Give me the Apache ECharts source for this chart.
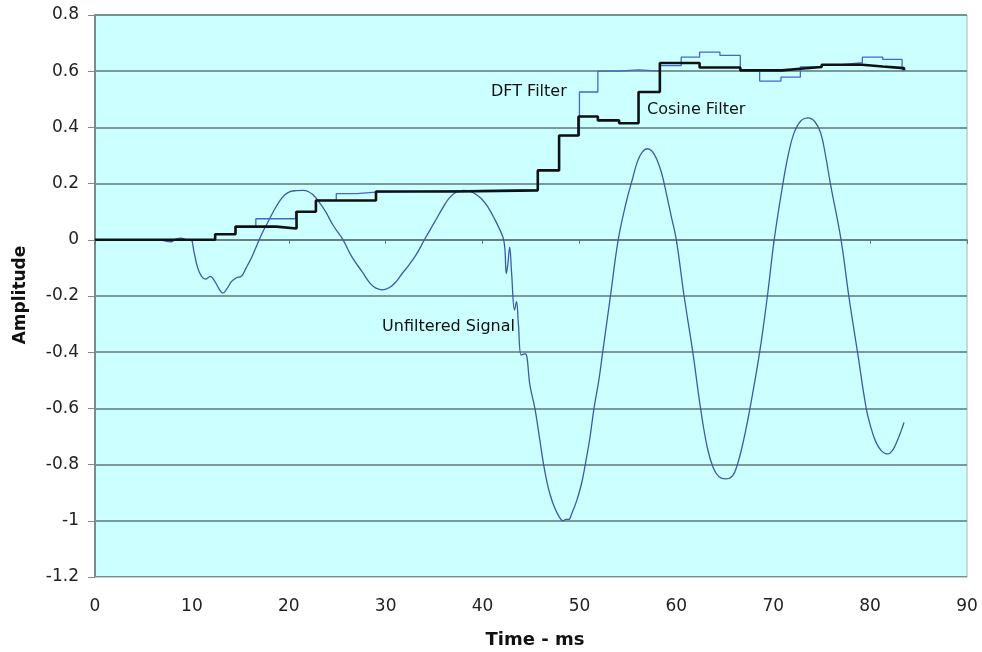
<!DOCTYPE html>
<html>
<head>
<meta charset="utf-8">
<script src="https://cdn.jsdelivr.net/npm/echarts@6/dist/echarts.min.js"></script>
<style>
    html, body { margin: 0; padding: 0; background: #fff; }
    #graph { width: 982px; height: 652px; }
</style>
</head>
<body>
<div id="graph"></div>
<script>
"use strict"

// time (ms), amplitude
const unfiltered = [
    [0, 0], [6.5, 0], [7.2, -0.004], [7.8, -0.007], [8.4, 0.003], [8.9, 0.006], [9.4, 0.001], [9.9, 0],
    [10.2, -0.04], [10.6, -0.10], [11.0, -0.13], [11.4, -0.14], [11.9, -0.13], [12.4, -0.15], [12.9, -0.18],
    [13.2, -0.19], [13.6, -0.175], [14.1, -0.148], [14.6, -0.135], [15.1, -0.13], [15.6, -0.10], [16.2, -0.06],
    [16.7, -0.02], [17.2, 0.02], [17.8, 0.06], [18.4, 0.10], [19.0, 0.135], [19.6, 0.16], [20.2, 0.172],
    [20.8, 0.175], [21.5, 0.176], [22.0, 0.172], [22.5, 0.16], [23.0, 0.14], [23.8, 0.10], [24.6, 0.05],
    [25.6, 0.0], [26.5, -0.06], [27.6, -0.115], [28.4, -0.155], [29.0, -0.172], [29.7, -0.178], [30.4, -0.17],
    [31.1, -0.148], [31.7, -0.12], [32.4, -0.09], [33.2, -0.05], [34.0, 0.0], [35.0, 0.06], [36.0, 0.12],
    [36.6, 0.15], [37.3, 0.17], [38.0, 0.176], [38.7, 0.172], [39.3, 0.162], [39.9, 0.145], [40.5, 0.12],
    [41.3, 0.07], [42.1, 0.01], [42.3, -0.03], [42.45, -0.12], [42.6, -0.09], [42.8, -0.026], [43.0, -0.12],
    [43.3, -0.25], [43.5, -0.22], [43.7, -0.30], [44.0, -0.41], [44.4, -0.405], [44.9, -0.52], [45.4, -0.6],
    [45.9, -0.71], [46.3, -0.8], [46.7, -0.87], [47.0, -0.91], [47.4, -0.95], [47.9, -0.985], [48.3, -1.0],
    [48.6, -0.995], [48.9, -0.995], [49.2, -0.975], [49.7, -0.93], [50.2, -0.87], [50.6, -0.8], [51.1, -0.70],
    [51.5, -0.6], [52.0, -0.5], [52.4, -0.4], [53.2, -0.2], [54.0, 0.0], [54.8, 0.13], [55.5, 0.22],
    [56.0, 0.28], [56.5, 0.313], [57.0, 0.324], [57.5, 0.315], [58.0, 0.285], [58.5, 0.235], [59.0, 0.16],
    [59.5, 0.08], [60.0, 0.0], [60.8, -0.2], [61.7, -0.4], [62.5, -0.6], [63.2, -0.74], [63.8, -0.81],
    [64.4, -0.843], [65.1, -0.851], [65.8, -0.84], [66.3, -0.8], [66.9, -0.72], [67.6, -0.6], [68.6, -0.4],
    [69.4, -0.2], [70.1, 0.0], [71.0, 0.2], [71.6, 0.31], [72.2, 0.385], [72.9, 0.425], [73.6, 0.434],
    [74.3, 0.42], [74.9, 0.38], [75.4, 0.3], [75.9, 0.2], [77.0, 0.0], [77.8, -0.2], [78.7, -0.4],
    [79.6, -0.6], [80.1, -0.67], [80.6, -0.72], [81.2, -0.752], [81.8, -0.762], [82.3, -0.75], [82.8, -0.715],
    [83.2, -0.68], [83.5, -0.65]
];

// step filters: [time where the output changes, new value]
const dftFilter = [
    [0, 0], [12.4, 0.02], [14.5, 0.047], [16.6, 0.075], [20.7, 0.10], [22.8, 0.14], [24.9, 0.164],
    [27.0, 0.17], [29.0, 0.175], [37.5, 0.178], [45.7, 0.247], [47.9, 0.371], [50.0, 0.526], [51.9, 0.60],
    [54.0, 0.605], [56.1, 0.60], [58.3, 0.62], [60.5, 0.65], [62.4, 0.668], [64.5, 0.656], [66.6, 0.605],
    [68.6, 0.565], [70.8, 0.579], [72.8, 0.615], [75.0, 0.623], [77.1, 0.63], [79.2, 0.65], [81.3, 0.642],
    [83.3, 0.605], [83.5, 0.605]
];

const cosineFilter = [
    [0, 0], [12.4, 0.02], [14.5, 0.047], [18.7, 0.04], [20.8, 0.10], [22.8, 0.14], [29.0, 0.172],
    [37.5, 0.176], [45.7, 0.247], [47.9, 0.371], [49.9, 0.439], [51.9, 0.425], [54.1, 0.415], [56.1, 0.526],
    [58.3, 0.629], [62.4, 0.613], [66.6, 0.603], [70.9, 0.609], [72.8, 0.615], [75.0, 0.623], [79.2, 0.617],
    [81.3, 0.611], [83.5, 0.603]
];

const xTitle = "Time - ms", yTitle = "Amplitude";
const seriesNames = ["Unfiltered Signal", "DFT Filter", "Cosine Filter"];

const font = "DejaVu Sans";
const tickLabel = { fontFamily: font, fontSize: 17, color: "#222" };

const myChart = echarts.init(document.getElementById("graph"), null, { renderer: "canvas" });
const option = {
    animation: false,
    grid: {
        left: 95, right: 15, top: 15, bottom: 75,
        show: true,
        backgroundColor: "#CCFFFF",
        borderColor: "#a8b4b4",
        borderWidth: 1
    },
    xAxis: [
        {
            type: "value", min: 0, max: 90, interval: 10,
            position: "bottom",
            axisLine: { onZero: false, lineStyle: { color: "#c4cccc", width: 1 } },
            axisTick: { show: false },
            splitLine: { show: false },
            axisLabel: Object.assign({ margin: 21 }, tickLabel)
        },
        {
            type: "value", min: 0, max: 90, interval: 10,
            position: "bottom",
            axisLine: { onZero: true, lineStyle: { color: "#5f7878", width: 1.5 } },
            axisTick: { show: true, length: 4, lineStyle: { color: "#5f7878" } },
            splitLine: { show: false },
            axisLabel: { show: false }
        }
    ],
    yAxis: {
        type: "value", min: -1.2, max: 0.8, interval: 0.2,
        axisLine: { show: true, lineStyle: { color: "#7a8c8c", width: 2 } },
        axisTick: { show: true, length: 7, lineStyle: { color: "#7a8c8c" } },
        splitLine: { show: true, lineStyle: { color: "#5f7878", width: 1.5 } },
        axisLabel: Object.assign({ margin: 16, formatter: v => String(+v.toFixed(1)) }, tickLabel)
    },
    series: [
        {
            name: seriesNames[0], type: "line", data: unfiltered,
            showSymbol: false, smooth: 0.4,
            lineStyle: { color: "#3d5aa8", width: 1.3 }, z: 3
        },
        {
            name: seriesNames[1], type: "line", data: dftFilter, step: "end",
            showSymbol: false,
            lineStyle: { color: "#4466cc", width: 1.3 }, z: 4
        },
        {
            name: seriesNames[2], type: "line", data: cosineFilter, step: "end",
            showSymbol: false,
            lineStyle: { color: "#111", width: 2.6 }, z: 5
        }
    ],
    graphic: [
        { type: "text", x: 491, y: 92, z: 10, style: { text: seriesNames[1], fontFamily: font, fontSize: 16, fill: "#111", verticalAlign: "middle" } },
        { type: "text", x: 647, y: 110, z: 10, style: { text: seriesNames[2], fontFamily: font, fontSize: 16, fill: "#111", verticalAlign: "middle" } },
        { type: "text", x: 515, y: 327, z: 10, style: { text: seriesNames[0], fontFamily: font, fontSize: 16, fill: "#111", align: "right", verticalAlign: "middle" } },
        { type: "text", x: 535, y: 640, style: { text: xTitle, fontFamily: font, fontSize: 18, fontWeight: "bold", fill: "#111", align: "center", verticalAlign: "middle" } },
        { type: "text", x: 21, y: 295, rotation: Math.PI / 2, style: { text: yTitle, fontFamily: font, fontSize: 17, fontWeight: "bold", fill: "#111", align: "center", verticalAlign: "middle" } }
    ]
};
myChart.setOption(option);
</script>
</body>
</html>
